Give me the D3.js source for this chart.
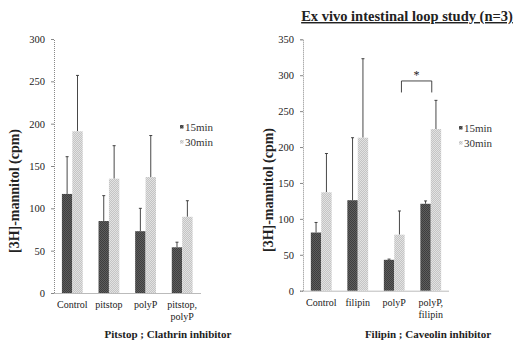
<!DOCTYPE html>
<html lang="en">
<head>
<meta charset="UTF-8" />
<title>Ex vivo intestinal loop study</title>
<script src="https://d3js.org/d3.v7.min.js"></script>
<style>
  body { margin: 0; background: #fff; }
  svg, svg text { font-family: "Liberation Serif", "DejaVu Serif", serif; }
</style>
</head>
<body>
<div id="chart"></div>
<script>
// left panel: pitstop (clathrin inhibitor)
const leftCats = ["Control", "pitstop", "polyP", "pitstop,|polyP"];
const left15 = [117, 85, 73, 54];
const left15Err = [161, 115, 100, 60];
const left30 = [191, 135, 137, 90];
const left30Err = [257, 174, 186, 109];
const leftTicks = [0, 50, 100, 150, 200, 250, 300];

// right panel: filipin (caveolin inhibitor)
const rightCats = ["Control", "filipin", "polyP", "polyP,|filipin"];
const right15 = [81, 126, 43, 121];
const right15Err = [95, 213, 44, 125];
const right30 = [137, 213, 78, 225];
const right30Err = [191, 323, 111, 265];
const rightTicks = [0, 50, 100, 150, 200, 250, 300, 350];

const seriesNames = ["15min", "30min"];
const seriesColors = ["#5e5e5e", "#c4c4c4"];

const svg = d3.select("#chart").append("svg")
  .attr("width", 518).attr("height", 345);

// fill textures like the scanned figure
const defs = svg.append("defs");
seriesColors.forEach((c, i) => {
  const p = defs.append("pattern").attr("id", "pat" + i)
    .attr("width", 2).attr("height", 2).attr("patternUnits", "userSpaceOnUse");
  p.append("rect").attr("width", 2).attr("height", 2).attr("fill", c);
  p.append("rect").attr("width", 1).attr("height", 1)
    .attr("fill", i === 0 ? "#3e3e3e" : "#e2e2e2");
  p.append("rect").attr("x", 1).attr("y", 1).attr("width", 1).attr("height", 1)
    .attr("fill", i === 0 ? "#3e3e3e" : "#e2e2e2");
});

function panel(opt) {
  const g = svg.append("g");
  const x = d3.scaleBand().domain(opt.cats).range(opt.xr);
  const y = d3.scaleLinear().domain([0, opt.max]).range(opt.yr);
  const bw = 10.4;

  // y axis
  const ya = g.append("g").attr("transform", `translate(${opt.xr[0]},0)`)
    .call(d3.axisLeft(y).tickValues(opt.ticks).tickSize(3).tickPadding(6));
  ya.attr("font-family", "Liberation Serif").attr("font-size", 10.5);
  ya.selectAll(".tick text")
    .style("font-family", "'Liberation Serif', serif").attr("fill", "#222");
  ya.select(".domain").attr("stroke", "#888").attr("stroke-dasharray", "1,1");
  ya.selectAll(".tick line").attr("stroke", "#888");

  // x axis
  const xa = g.append("g").attr("transform", `translate(0,${opt.yr[0]})`)
    .call(d3.axisBottom(x).tickSize(0).tickFormat(""));
  xa.select(".domain").attr("stroke", "#777").attr("stroke-dasharray", "1,1");

  opt.cats.forEach(c => {
    const lines = c.split("|");
    const t = g.append("text").attr("x", x(c) + x.bandwidth() / 2)
      .attr("y", opt.yr[0] + 15).attr("text-anchor", "middle")
      .attr("font-size", 10).attr("fill", "#222");
    lines.forEach((l, k) => t.append("tspan")
      .attr("x", x(c) + x.bandwidth() / 2).attr("dy", k === 0 ? 0 : 12).text(l));
  });

  const sets = [[opt.v15, opt.e15], [opt.v30, opt.e30]];
  sets.forEach(([vals, errs], s) => {
    opt.cats.forEach((c, i) => {
      const bx = x(c) + x.bandwidth() / 2 - bw + s * bw;
      const cx = bx + bw / 2;
      g.append("line").attr("x1", cx).attr("x2", cx)
        .attr("y1", y(vals[i])).attr("y2", y(errs[i]))
        .attr("stroke", "#333").attr("stroke-width", 0.9);
      g.append("line").attr("x1", cx - 1.5).attr("x2", cx + 1.5)
        .attr("y1", y(errs[i])).attr("y2", y(errs[i]))
        .attr("stroke", "#333").attr("stroke-width", 0.9);
      g.append("rect").attr("x", bx).attr("width", bw)
        .attr("y", y(vals[i])).attr("height", opt.yr[0] - y(vals[i]))
        .attr("fill", `url(#pat${s})`);
    });
  });

  // legend
  seriesNames.forEach((n, i) => {
    g.append("rect").attr("x", opt.legend[0]).attr("y", opt.legend[1] + i * 15 - 6)
      .attr("width", 3.5).attr("height", 3.5).attr("fill", `url(#pat${i})`);
    g.append("text").attr("x", opt.legend[0] + 5).attr("y", opt.legend[1] + i * 15)
      .attr("font-size", 11).attr("fill", "#333").text(n);
  });

  // y label
  g.append("text")
    .attr("transform", `translate(${opt.ylab[0]},${opt.ylab[1]}) rotate(-90)`)
    .attr("text-anchor", "middle").attr("font-size", 14).attr("font-weight", "bold")
    .attr("fill", "#222").text("[3H]-mannitol (cpm)");

  // caption
  g.append("text").attr("x", opt.cap[0]).attr("y", opt.cap[1])
    .attr("text-anchor", "middle").attr("font-size", 11).attr("font-weight", "bold")
    .attr("fill", "#222").text(opt.caption);

  return { x, y, bw };
}

panel({
  cats: leftCats, v15: left15, e15: left15Err, v30: left30, e30: left30Err,
  ticks: leftTicks, max: 300, xr: [54, 200.5], yr: [293, 39],
  legend: [180, 131], ylab: [19, 191], cap: [168, 338],
  caption: "Pitstop ; Clathrin  inhibitor"
});

const r = panel({
  cats: rightCats, v15: right15, e15: right15Err, v30: right30, e30: right30Err,
  ticks: rightTicks, max: 350, xr: [303, 449], yr: [290.7, 39.3],
  legend: [459, 132], ylab: [273, 190], cap: [428, 338],
  caption: "Filipin ; Caveolin  inhibitor"
});

// significance bracket between polyP and polyP,filipin 30min bars
const bx1 = r.x("polyP") + r.x.bandwidth() / 2 + r.bw / 2 + 2;
const bx2 = r.x("polyP,|filipin") + r.x.bandwidth() / 2 + 1;
const by = r.y(292);
svg.append("path")
  .attr("d", `M${bx1},${r.y(276)}V${by}H${bx2}V${r.y(276)}`)
  .attr("fill", "none").attr("stroke", "#333").attr("stroke-width", 0.9);
svg.append("text").attr("x", (bx1 + bx2) / 2).attr("y", by - 2)
  .attr("text-anchor", "middle").attr("font-size", 12).attr("fill", "#222").text("*");

// title
svg.append("text").attr("x", 407).attr("y", 21).attr("text-anchor", "middle")
  .attr("font-size", 14.5).attr("font-weight", "bold").attr("fill", "#222")
  .attr("text-decoration", "underline")
  .text("Ex vivo intestinal loop study (n=3)");
</script>
</body>
</html>
